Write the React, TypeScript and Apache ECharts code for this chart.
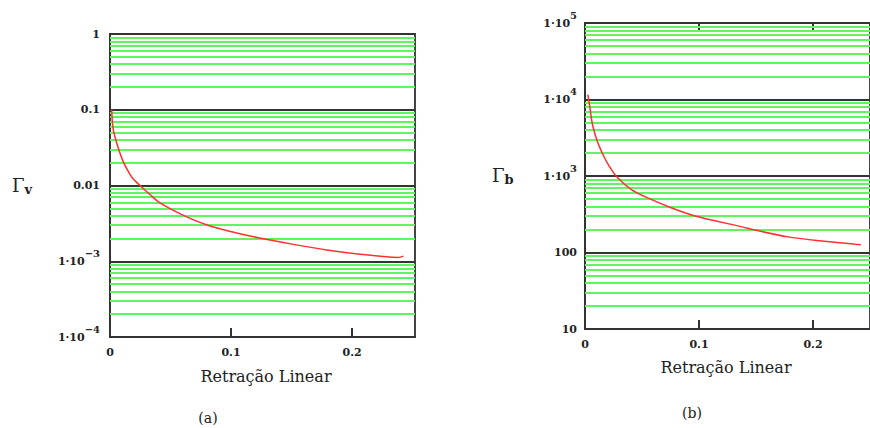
import React, { useEffect, useRef } from "react";
import * as echarts from "echarts";

// ---- data ----
const curveAX = [0.0014, 0.0027, 0.0069, 0.011, 0.0165, 0.02, 0.0248, 0.033, 0.0413, 0.062, 0.0826, 0.103, 0.1226, 0.1515, 0.179, 0.2066, 0.238, 0.2424];
const curveAY = [0.1, 0.0546, 0.031, 0.0205, 0.014, 0.0118, 0.01, 0.0076, 0.0059, 0.00395, 0.00292, 0.0024, 0.00204, 0.00167, 0.00141, 0.00124, 0.00112, 0.00117];

const curveBX = [0.0025, 0.004, 0.0067, 0.011, 0.0166, 0.0208, 0.0278, 0.0404, 0.0545, 0.0756, 0.0966, 0.1177, 0.137, 0.15, 0.178, 0.206, 0.237, 0.242];
const curveBY = [11600, 8420, 4610, 2790, 1800, 1380, 980, 670, 521, 385, 300, 253, 218, 195, 160, 142, 128, 126];

const leftYDecades = [-4, -3, -2, -1, 0];
const leftYLabels = ["{m|1·10}{s|−4}", "{m|1·10}{s|−3}", "{n|0.01}", "{n|0.1}", "{n|1}"];
const rightYDecades = [1, 2, 3, 4, 5];
const rightYLabels = ["{n|10}", "{n|100}", "{m|1·10}{s|3}", "{m|1·10}{s|4}", "{m|1·10}{s|5}"];
const xTickLabels = ["0", "0.1", "0.2"];
const minorMultipliers = [2, 3, 4, 5, 6, 7, 8, 9];

const xTitle = "Retração Linear";
const leftYTitle = ["Γ", "v"];
const rightYTitle = ["Γ", "b"];
const panelLabels = ["(a)", "(b)"];

const FONT = "DejaVu Serif";
const GREEN = "#5ef55e";
const DARK = "#333333";
const TEXT = "#222222";

function minorValues(decades: number[]) {
  const out: number[] = [];
  for (let i = 0; i < decades.length - 1; i++) {
    for (const k of minorMultipliers) out.push(k * Math.pow(10, decades[i]));
  }
  return out;
}

const richLabel = {
  n: { fontFamily: FONT, fontSize: 11, color: TEXT, fontWeight: "bold" as const, lineHeight: 14 },
  m: { fontFamily: FONT, fontSize: 11, color: TEXT, fontWeight: "bold" as const, verticalAlign: "middle" as const, lineHeight: 26 },
  s: { fontFamily: FONT, fontSize: 10, color: TEXT, fontWeight: "bold" as const, verticalAlign: "top" as const, lineHeight: 10 },
};

function yLabelFormatter(decades: number[], labels: string[]) {
  return (v: number) => {
    const d = Math.round(Math.log10(v));
    const i = decades.indexOf(d);
    return i >= 0 ? labels[i] : "";
  };
}

function xLabelFormatter(v: number) {
  const i = Math.round(v * 10);
  if (Math.abs(v * 10 - i) > 1e-6) return "";
  return xTickLabels[i] ?? "";
}

function titleRich() {
  return {
    g: { fontFamily: FONT, fontSize: 18, fill: TEXT, verticalAlign: "top" as const, lineHeight: 20 },
    s: { fontFamily: FONT, fontSize: 13, fill: TEXT, fontWeight: "bold" as const, verticalAlign: "bottom" as const, lineHeight: 8 },
  };
}

export default function App() {
  const ref = useRef<HTMLDivElement>(null);
  useEffect(() => {
    const chart = echarts.init(ref.current!, undefined, { renderer: "svg" });
    const gridBorder = { show: true, borderColor: "#444", borderWidth: 2, backgroundColor: "#fff" };
    const xLabelStyle = { formatter: xLabelFormatter, showMaxLabel: false, margin: 10, fontFamily: FONT, fontSize: 11, fontWeight: "bold", color: TEXT };
    const axisLine = { show: true, lineStyle: { color: DARK, width: 2 } };
    const minorSeries = (xi: number, yi: number, decades: number[]) => ({
      type: "line", xAxisIndex: xi, yAxisIndex: yi, data: [], z: 1, silent: true,
      markLine: {
        silent: true, symbol: "none", label: { show: false }, animation: false, precision: 10,
        lineStyle: { color: GREEN, width: 2, type: "solid" },
        data: minorValues(decades).map((v) => ({ yAxis: v })),
      },
    });
    const curveSeries = (xi: number, yi: number, xs: number[], ys: number[]) => ({
      type: "line", xAxisIndex: xi, yAxisIndex: yi, z: 5, showSymbol: false,
      smooth: 0.3,
      lineStyle: { color: "#ff3030", width: 1.5 },
      data: xs.map((x, i) => [x, ys[i]]),
    });
    const option: any = {
      animation: false,
      backgroundColor: "#fff",
      grid: [
        { left: 110, top: 34, width: 305, height: 303, ...gridBorder, z: 0 },
        { left: 585, top: 23, width: 297, height: 306, ...gridBorder, z: 0 },
      ],
      xAxis: [
        {
          type: "value", gridIndex: 0, min: 0, max: 0.252, interval: 0.1, axisLine,
          axisTick: { show: true, inside: true, length: 9, lineStyle: { color: DARK, width: 2 } },
          axisLabel: xLabelStyle, splitLine: { show: false },
        },
        {
          type: "value", gridIndex: 1, min: 0, max: 0.25, interval: 0.1, axisLine,
          axisTick: { show: true, inside: true, length: 9, lineStyle: { color: DARK, width: 2 } },
          axisLabel: xLabelStyle, splitLine: { show: false },
        },
        {
          type: "value", gridIndex: 1, position: "top", min: 0, max: 0.25, interval: 0.1, axisLine,
          axisTick: { show: true, inside: true, length: 7, lineStyle: { color: DARK, width: 2 } },
          axisLabel: { show: false }, splitLine: { show: false },
        },
      ],
      yAxis: [
        {
          type: "log", logBase: 10, gridIndex: 0, min: 1e-4, max: 1, axisLine,
          axisTick: { show: false },
          splitLine: { show: true, lineStyle: { color: DARK, width: 2 } },
          axisLabel: { formatter: yLabelFormatter(leftYDecades, leftYLabels), rich: richLabel, margin: 10 },
        },
        {
          type: "log", logBase: 10, gridIndex: 1, min: 10, max: 1e5, axisLine,
          axisTick: { show: false },
          splitLine: { show: true, lineStyle: { color: DARK, width: 2 } },
          axisLabel: { formatter: yLabelFormatter(rightYDecades, rightYLabels), rich: richLabel, margin: 8 },
        },
      ],
      series: [
        minorSeries(0, 0, leftYDecades),
        minorSeries(1, 1, rightYDecades),
        curveSeries(0, 0, curveAX, curveAY),
        curveSeries(1, 1, curveBX, curveBY),
      ],
      graphic: [
        { type: "text", left: 12, top: 176, style: { text: `{g|${leftYTitle[0]}}{s|${leftYTitle[1]}}`, rich: titleRich() } },
        { type: "text", left: 492, top: 166, style: { text: `{g|${rightYTitle[0]}}{s|${rightYTitle[1]}}`, rich: titleRich() } },
        { type: "text", x: 266, y: 376, style: { text: xTitle, fontFamily: FONT, fontSize: 16, fill: TEXT, align: "center", verticalAlign: "middle" } },
        { type: "text", x: 726, y: 367, style: { text: xTitle, fontFamily: FONT, fontSize: 16, fill: TEXT, align: "center", verticalAlign: "middle" } },
        { type: "text", x: 208, y: 418, style: { text: panelLabels[0], fontFamily: FONT, fontSize: 14, fill: TEXT, align: "center", verticalAlign: "middle" } },
        { type: "text", x: 692, y: 413, style: { text: panelLabels[1], fontFamily: FONT, fontSize: 14, fill: TEXT, align: "center", verticalAlign: "middle" } },
      ],
    };
    chart.setOption(option);
    return () => chart.dispose();
  }, []);
  return <div ref={ref} style={{ position: "fixed", left: 0, top: 0, width: 870, height: 428 }} />;
}
